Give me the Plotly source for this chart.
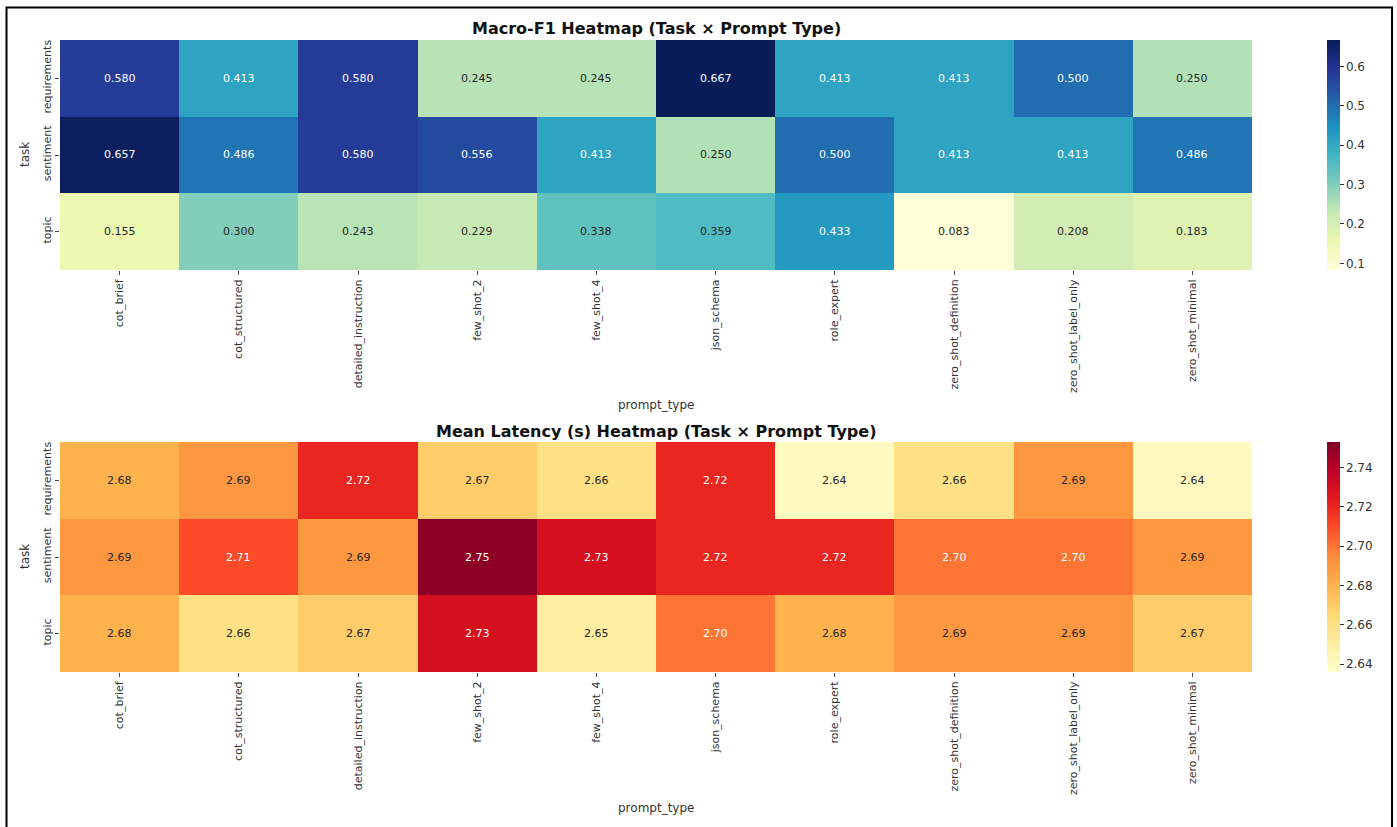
import plotly.graph_objects as go

# Heatmap data: task x prompt type
tasks = ["requirements", "sentiment", "topic"]
prompt_types = ["cot_brief", "cot_structured", "detailed_instruction", "few_shot_2",
                "few_shot_4", "json_schema", "role_expert", "zero_shot_definition",
                "zero_shot_label_only", "zero_shot_minimal"]

f1_requirements = [0.580, 0.413, 0.580, 0.245, 0.245, 0.667, 0.413, 0.413, 0.500, 0.250]
f1_sentiment = [0.657, 0.486, 0.580, 0.556, 0.413, 0.250, 0.500, 0.413, 0.413, 0.486]
f1_topic = [0.155, 0.300, 0.243, 0.229, 0.338, 0.359, 0.433, 0.083, 0.208, 0.183]

lat_requirements = [2.68, 2.69, 2.72, 2.67, 2.66, 2.72, 2.64, 2.66, 2.69, 2.64]
lat_sentiment = [2.69, 2.71, 2.69, 2.75, 2.73, 2.72, 2.72, 2.70, 2.70, 2.69]
lat_topic = [2.68, 2.66, 2.67, 2.73, 2.65, 2.70, 2.68, 2.69, 2.69, 2.67]

f1_ticks = [0.1, 0.2, 0.3, 0.4, 0.5, 0.6]
lat_ticks = [2.64, 2.66, 2.68, 2.70, 2.72, 2.74]
lat_range = (2.636, 2.753)

YLGNBU = ["#ffffd9", "#edf8b1", "#c7e9b4", "#7fcdbb", "#41b6c4",
          "#1d91c0", "#225ea8", "#253494", "#081d58"]
YLORRD = ["#ffffcc", "#ffeda0", "#fed976", "#feb24c", "#fd8d3c",
          "#fc4e2a", "#e31a1c", "#bd0026", "#800026"]

W, H = 1397, 827
FONT = "DejaVu Sans"


def scale(colors):
    n = len(colors) - 1
    return [[i / n, c] for i, c in enumerate(colors)]


def hex_rgb(h):
    h = h.lstrip("#")
    return [int(h[i:i + 2], 16) for i in (0, 2, 4)]


def color_at(colors, t):
    t = min(max(t, 0.0), 1.0)
    n = len(colors) - 1
    i = min(int(t * n), n - 1)
    f = t * n - i
    a, b = hex_rgb(colors[i]), hex_rgb(colors[i + 1])
    return [a[k] + (b[k] - a[k]) * f for k in range(3)]


def luminance(rgb):
    lin = []
    for c in rgb:
        c = c / 255.0
        lin.append(c / 12.92 if c <= 0.03928 else ((c + 0.055) / 1.055) ** 2.4)
    return 0.2126 * lin[0] + 0.7152 * lin[1] + 0.0722 * lin[2]


def px_x(p):
    return p / W


def px_y(p):
    return 1 - p / H


fig = go.Figure()

panels = [
    dict(z=[f1_requirements, f1_sentiment, f1_topic], colors=YLGNBU, fmt="{:.3f}",
         zr=None, ticks=f1_ticks, top=40, bottom=270, ax="", tickfmt=".1f",
         title="Macro-F1 Heatmap (Task × Prompt Type)", title_y=29, xlab_y=405),
    dict(z=[lat_requirements, lat_sentiment, lat_topic], colors=YLORRD, fmt="{:.2f}",
         zr=lat_range, ticks=lat_ticks, top=442, bottom=672, ax="2", tickfmt=".2f",
         title="Mean Latency (s) Heatmap (Task × Prompt Type)", title_y=431, xlab_y=808),
]

left, right = 60, 1252
annotations = []
for p in panels:
    flat = [v for row in p["z"] for v in row]
    zmin, zmax = p["zr"] if p["zr"] else (min(flat), max(flat))
    xa = "x" + p["ax"]
    ya = "y" + p["ax"]
    fig.add_trace(go.Heatmap(
        z=p["z"], x=prompt_types, y=tasks, xaxis=xa, yaxis=ya,
        colorscale=scale(p["colors"]), zmin=zmin, zmax=zmax, xgap=0, ygap=0,
        hoverongaps=False,
        colorbar=dict(
            x=px_x(1327), xanchor="left", xpad=0,
            y=px_y((p["top"] + p["bottom"]) / 2), yanchor="middle", ypad=0,
            len=p["bottom"] - p["top"], lenmode="pixels", thickness=13,
            outlinewidth=0, tickvals=p["ticks"], tickformat=p["tickfmt"],
            ticks="outside", ticklen=4, tickcolor="#333", tickwidth=1,
            tickfont=dict(family=FONT, size=12, color="#333"),
        ),
    ))
    # cell value labels, dark or white depending on cell luminance
    for r, task in enumerate(tasks):
        for c, pt in enumerate(prompt_types):
            v = p["z"][r][c]
            rgb = color_at(p["colors"], (v - zmin) / (zmax - zmin))
            col = "#262626" if luminance(rgb) > 0.408 else "#ffffff"
            annotations.append(dict(
                x=pt, y=task, xref=xa, yref=ya, text=p["fmt"].format(v),
                showarrow=False, font=dict(family=FONT, size=11, color=col)))
    annotations.append(dict(
        x=px_x((left + right) / 2), y=px_y(p["title_y"]), xref="paper", yref="paper",
        text="<b>" + p["title"] + "</b>", showarrow=False, yanchor="middle",
        font=dict(family=FONT, size=16, color="#111")))
    annotations.append(dict(
        x=px_x((left + right) / 2), y=px_y(p["xlab_y"]), xref="paper", yref="paper",
        text="prompt_type", showarrow=False, yanchor="middle",
        font=dict(family=FONT, size=12, color="#333")))
    annotations.append(dict(
        x=px_x(25), y=px_y((p["top"] + p["bottom"]) / 2), xref="paper", yref="paper",
        text="task", showarrow=False, textangle=-90, xanchor="center", yanchor="middle",
        font=dict(family=FONT, size=12, color="#333")))

axis_common = dict(showgrid=False, zeroline=False, showline=False, ticks="outside",
                   ticklen=4, tickcolor="#444", tickwidth=1, automargin=False,
                   tickfont=dict(family=FONT, size=11, color="#333"))

fig.update_layout(
    width=W, height=H, margin=dict(l=0, r=0, t=0, b=0, autoexpand=False),
    paper_bgcolor="white", plot_bgcolor="white", annotations=annotations,
    xaxis=dict(domain=[px_x(left), px_x(right)], anchor="y", tickangle=-90, **axis_common),
    yaxis=dict(domain=[px_y(270), px_y(40)], anchor="x", autorange="reversed",
               tickangle=-90, **axis_common),
    xaxis2=dict(domain=[px_x(left), px_x(right)], anchor="y2", tickangle=-90, **axis_common),
    yaxis2=dict(domain=[px_y(672), px_y(442)], anchor="x2", autorange="reversed",
                tickangle=-90, **axis_common),
    shapes=[dict(type="rect", xref="paper", yref="paper",
                 x0=px_x(6.5), x1=px_x(1392), y0=-0.05, y1=px_y(7.5),
                 line=dict(color="black", width=2), fillcolor="rgba(0,0,0,0)")],
)

fig.write_html("out.html")
